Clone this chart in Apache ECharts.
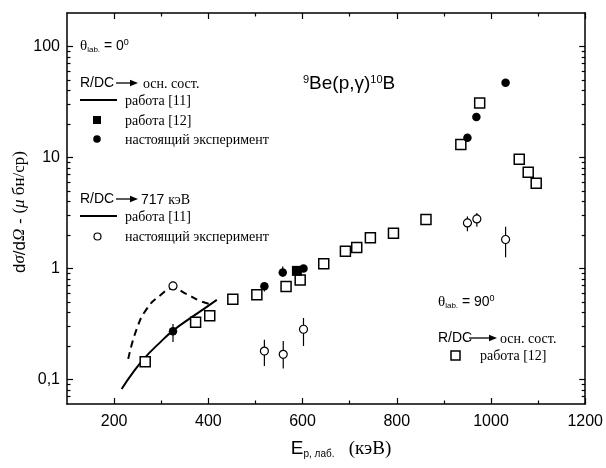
<!DOCTYPE html>
<html><head><meta charset="utf-8">
<script src="https://cdn.jsdelivr.net/npm/echarts@6/dist/echarts.min.js"></script>
<style>html,body{margin:0;padding:0;background:#fff}#c{width:606px;height:468px}</style>
</head><body><div id="c"></div>
<script>
// ---- axis ticks ----
const xMajorTicks = [200, 400, 600, 800, 1000, 1200];
const xMinorTicks = [300, 500, 700, 900, 1100];
const yMajorTicks = [0.1, 1, 10, 100];
const yMinorTicks = [0.07, 0.08, 0.09, 0.2, 0.3, 0.4, 0.5, 0.6, 0.7, 0.8, 0.9,
  2, 3, 4, 5, 6, 7, 8, 9, 20, 30, 40, 50, 60, 70, 80, 90];

// ---- 90 deg, work [12], ground state (open squares) ----
const sq90E = [266, 373, 403, 452, 503, 565, 595, 645, 691, 715, 744, 793, 862, 936, 976, 1060, 1079, 1096];
const sq90V = [0.144, 0.327, 0.375, 0.526, 0.578, 0.687, 0.787, 1.10, 1.43, 1.54, 1.89, 2.07, 2.76, 13.1, 30.9, 9.6, 7.36, 5.86];

// ---- 0 deg, work [12], ground state (filled square) ----
const sq0E = [588];
const sq0V = [0.95];

// ---- 0 deg, present experiment, ground state (filled circles) ----
const gsE = [325, 519, 558, 602, 950, 969, 1031];
const gsV = [0.272, 0.69, 0.916, 1.0, 15.0, 23.1, 47];
const gsLo = [0.217, 0.62, 0.84, null, null, null, null];
const gsHi = [0.316, 0.74, 1.04, null, null, null, null];

// ---- 0 deg, present experiment, 717 keV (open circles) ----
const e717E = [325, 519, 559, 602, 950, 970, 1031];
const e717V = [0.695, 0.18, 0.168, 0.283, 2.57, 2.79, 1.82];
const e717Lo = [0.655, 0.132, 0.125, 0.2, 2.16, 2.37, 1.26];
const e717Hi = [0.72, 0.227, 0.222, 0.357, 2.94, 3.16, 2.37];

// ---- work [11] curves ----
const thGsE = [216, 241, 266, 295, 325, 364, 390, 418];
const thGsV = [0.082, 0.117, 0.158, 0.21, 0.275, 0.362, 0.43, 0.52];
const th717E = [230, 248, 269, 297, 325, 354, 382, 403];
const th717V = [0.153, 0.285, 0.43, 0.567, 0.66, 0.586, 0.51, 0.477];

const zip = (a, b) => a.map((v, i) => [v, b[i]]);
const errData = (e, lo, hi) => e.map((v, i) => [v, lo[i], hi[i]]).filter(d => d[1] != null);

const SANS = 'Liberation Sans';
const SERIF = 'Liberation Serif';

function xAxisDef(pos, ticks, len, showLine, labels) {
  return {
    type: 'value', position: pos, min: 100, max: 1200,
    axisLine: { show: showLine, onZero: false, lineStyle: { color: '#000', width: 1.5 } },
    axisTick: { show: true, inside: true, length: len, customValues: ticks, lineStyle: { color: '#000', width: 1.2 } },
    axisLabel: labels ? { show: true, customValues: ticks, color: '#000', fontFamily: SANS, fontSize: 16, margin: 10,
      formatter: v => String(v) } : { show: false },
    splitLine: { show: false }
  };
}
function yAxisDef(pos, ticks, len, showLine, labels) {
  return {
    type: 'log', position: pos, min: 0.06, max: 200, logBase: 10,
    axisLine: { show: showLine, onZero: false, lineStyle: { color: '#000', width: 1.5 } },
    axisTick: { show: true, inside: true, length: len, customValues: ticks, lineStyle: { color: '#000', width: 1.2 } },
    axisLabel: labels ? { show: true, customValues: ticks, color: '#000', fontFamily: SANS, fontSize: 16, margin: 7,
      formatter: v => String(v).replace('.', ',') } : { show: false },
    splitLine: { show: false }, minorTick: { show: false }, minorSplitLine: { show: false }
  };
}

function errSeries(name, data) {
  return {
    name, type: 'custom', xAxisIndex: 0, yAxisIndex: 0, z: 2, data,
    renderItem: (params, api) => {
      const p1 = api.coord([api.value(0), api.value(1)]);
      const p2 = api.coord([api.value(0), api.value(2)]);
      return { type: 'line', shape: { x1: p1[0], y1: p1[1], x2: p2[0], y2: p2[1] },
        style: { stroke: '#000', lineWidth: 1.2 } };
    }
  };
}

function arrow(x1, x2, y) {
  return [
    { type: 'line', shape: { x1: x1, y1: y, x2: x2 - 6, y2: y }, style: { stroke: '#000', lineWidth: 1.3 } },
    { type: 'polygon', shape: { points: [[x2 - 8, y - 3.2], [x2, y], [x2 - 8, y + 3.2]] }, style: { fill: '#000' } }
  ];
}
function txt(x, y, text, rich, extra) {
  return Object.assign({ type: 'text', x, y, style: Object.assign({ text, rich, fill: '#000', verticalAlign: 'middle', align: 'left' }, extra || {}) });
}
const R = {
  a: { fontFamily: SANS, fontSize: 14, fill: '#000' },
  s: { fontFamily: SERIF, fontSize: 14, fill: '#000' },
  t: { fontFamily: SERIF, fontSize: 15, fill: '#000' },
  sub: { fontFamily: SANS, fontSize: 8, fill: '#000', verticalAlign: 'bottom', padding: [6, 0, 0, 0] },
  sup: { fontFamily: SANS, fontSize: 9, fill: '#000', verticalAlign: 'top', padding: [0, 0, 6, 0] },
  big: { fontFamily: SANS, fontSize: 19, fill: '#000' },
  bsup: { fontFamily: SANS, fontSize: 11, fill: '#000', verticalAlign: 'top', padding: [0, 0, 9, 0] },
  xa: { fontFamily: SANS, fontSize: 19, fill: '#000' },
  xs: { fontFamily: SERIF, fontSize: 19, fill: '#000' },
  xsub: { fontFamily: SANS, fontSize: 10, fill: '#000', verticalAlign: 'bottom', padding: [10, 0, 0, 0] },
  ya: { fontFamily: SANS, fontSize: 17, fill: '#000' },
  yi: { fontFamily: SERIF, fontSize: 17, fontStyle: 'italic', fill: '#000' },
  ys: { fontFamily: SERIF, fontSize: 17, fill: '#000' }
};

const graphics = [].concat(
  [txt(80, 46, '{t|θ}{sub|lab.}{a| = 0}{sup|0}', R)],
  [txt(80, 83, '{a|R/DC}', R)], arrow(116, 138, 83), [txt(143, 84, '{s|осн. сост.}', R)],
  [{ type: 'line', shape: { x1: 80, y1: 100, x2: 117, y2: 100 }, style: { stroke: '#000', lineWidth: 2 } }],
  [txt(125, 101, '{s|работа [11]}', R)],
  [{ type: 'rect', shape: { x: 93, y: 116, width: 8, height: 8 }, style: { fill: '#000' } }],
  [txt(125, 121, '{s|работа [12]}', R)],
  [{ type: 'circle', shape: { cx: 97, cy: 139, r: 3.8 }, style: { fill: '#000' } }],
  [txt(125, 140, '{s|настоящий эксперимент}', R)],
  [txt(80, 199, '{a|R/DC}', R)], arrow(116, 138, 199), [txt(141, 200, '{a|717 }{s|кэВ}', R)],
  [{ type: 'line', shape: { x1: 80, y1: 216, x2: 117, y2: 216 }, style: { stroke: '#000', lineWidth: 2 } }],
  [txt(125, 217, '{s|работа [11]}', R)],
  [{ type: 'circle', shape: { cx: 97.5, cy: 236.5, r: 3.5 }, style: { fill: '#fff', stroke: '#000', lineWidth: 1.2 } }],
  [txt(125, 237, '{s|настоящий эксперимент}', R)],
  [txt(303, 84, '{bsup|9}{big|Be(p,γ)}{bsup|10}{big|B}', R)],
  [txt(438, 302, '{t|θ}{sub|lab.}{a| = 90}{sup|0}', R)],
  [txt(438, 338, '{a|R/DC}', R)], arrow(469, 497, 338), [txt(500, 339, '{s|осн. сост.}', R)],
  [{ type: 'rect', shape: { x: 451, y: 351, width: 9, height: 9 }, style: { fill: '#fff', stroke: '#000', lineWidth: 1.5 } }],
  [txt(480, 356, '{s|работа [12]}', R)],
  [txt(341, 449, '{xa|E}{xsub|p, }{xsub|лаб.}{xs|   (кэВ)}', R, { align: 'center' })],
  [{ type: 'text', x: 20, y: 212, rotation: Math.PI / 2,
     style: { text: '{ya|d}{yi|σ}{ya|/d}{yi|Ω}{ya| - }{ys|(}{yi|μ}{ys| бн/ср)}', rich: R, align: 'center', verticalAlign: 'middle', fill: '#000' } }]
);

const chart = echarts.init(document.getElementById('c'), null, { renderer: 'canvas' });
chart.setOption({
  animation: false,
  backgroundColor: '#fff',
  grid: { left: 67, right: 19, top: 13, bottom: 64, containLabel: false },
  xAxis: [
    xAxisDef('bottom', xMajorTicks, 6, true, true),
    xAxisDef('bottom', xMinorTicks, 3.5, false, false),
    xAxisDef('top', xMajorTicks, 6, true, false),
    xAxisDef('top', xMinorTicks, 3.5, false, false)
  ],
  yAxis: [
    yAxisDef('left', yMajorTicks, 6, true, true),
    yAxisDef('left', yMinorTicks, 3.5, false, false),
    yAxisDef('right', yMajorTicks, 6, true, false),
    yAxisDef('right', yMinorTicks, 3.5, false, false)
  ],
  series: [
    { name: 'work11 gs', type: 'line', data: zip(thGsE, thGsV), smooth: true, showSymbol: false, symbol: 'none',
      lineStyle: { color: '#000', width: 2 }, z: 1 },
    { name: 'work11 717', type: 'line', data: zip(th717E, th717V), smooth: true, showSymbol: false, symbol: 'none',
      lineStyle: { color: '#000', width: 2, type: [7, 5] }, z: 1 },
    errSeries('gs err', errData(gsE, gsLo, gsHi)),
    errSeries('717 err', errData(e717E, e717Lo, e717Hi)),
    { name: 'work12 90', type: 'scatter', data: zip(sq90E, sq90V), symbol: 'rect', symbolSize: 10, z: 3,
      itemStyle: { color: '#fff', borderColor: '#000', borderWidth: 1.5, opacity: 1 } },
    { name: 'work12 0', type: 'scatter', data: zip(sq0E, sq0V), symbol: 'rect', symbolSize: 10, z: 4,
      itemStyle: { color: '#000', opacity: 1 } },
    { name: 'gs present', type: 'scatter', data: zip(gsE, gsV), symbol: 'circle', symbolSize: 8.5, z: 5,
      itemStyle: { color: '#000', opacity: 1 } },
    { name: '717 present', type: 'scatter', data: zip(e717E, e717V), symbol: 'circle', symbolSize: 8, z: 5,
      itemStyle: { color: '#fff', borderColor: '#000', borderWidth: 1.2, opacity: 1 } }
  ],
  graphic: graphics
});
</script>
</body></html>
